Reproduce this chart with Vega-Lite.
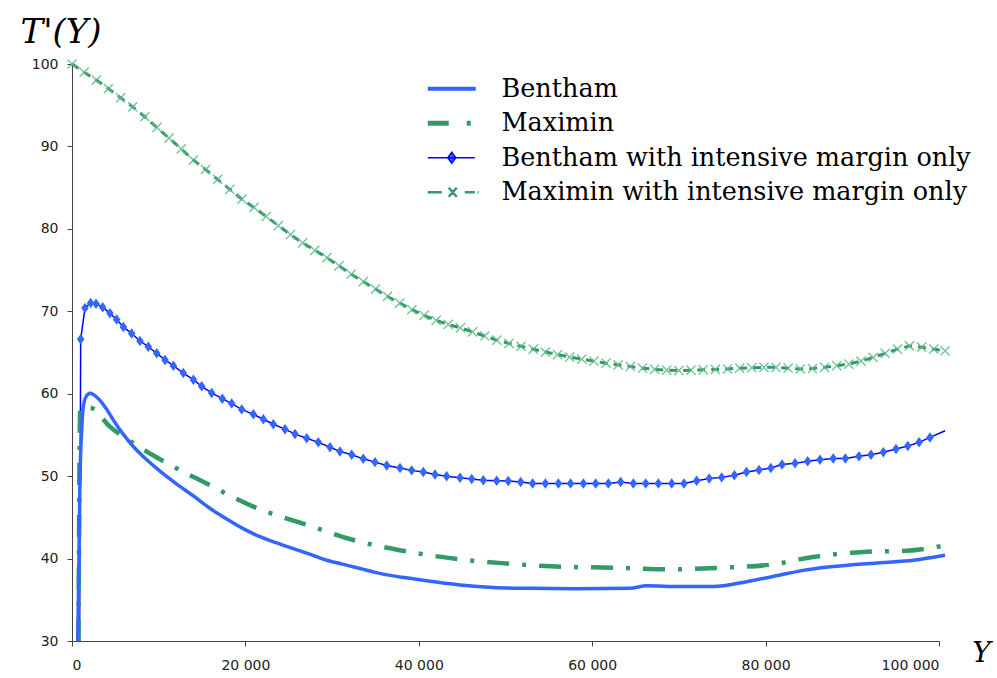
{
  "$schema": "https://vega.github.io/schema/vega-lite/v6.json",
  "width": 867,
  "height": 577,
  "autosize": {"type": "none"},
  "padding": {"left": 72, "top": 64, "right": 58, "bottom": 37},
  "background": "white",
  "config": {"view": {"stroke": null}},
  "datasets": {
    "bentham": [
      {"x":660,"y":30},{"x":750,"y":36},{"x":850,"y":44},{"x":920,"y":49.5},{"x":1120,"y":55.6},{"x":1300,"y":58.4},{"x":1600,"y":59.6},{"x":2080,"y":60.05},{"x":2600,"y":59.8},{"x":3230,"y":59.2},{"x":4000,"y":58.1},{"x":4770,"y":56.8},{"x":5900,"y":55.1},{"x":7070,"y":53.6},{"x":8500,"y":52.1},{"x":10150,"y":50.6},{"x":12000,"y":49.1},{"x":14000,"y":47.6},{"x":15900,"y":46.1},{"x":17840,"y":44.8},{"x":19800,"y":43.6},{"x":21680,"y":42.65},{"x":23600,"y":41.9},{"x":25530,"y":41.2},{"x":27500,"y":40.5},{"x":29380,"y":39.8},{"x":31300,"y":39.3},{"x":33220,"y":38.8},{"x":35100,"y":38.3},{"x":37060,"y":37.9},{"x":39000,"y":37.6},{"x":40910,"y":37.3},{"x":44750,"y":36.8},{"x":48590,"y":36.5},{"x":52830,"y":36.4},{"x":58000,"y":36.35},{"x":64360,"y":36.4},{"x":66280,"y":36.7},{"x":70130,"y":36.6},{"x":73970,"y":36.6},{"x":77820,"y":37.2},{"x":81660,"y":38.0},{"x":84500,"y":38.6},{"x":87430,"y":39.0},{"x":93200,"y":39.5},{"x":97040,"y":39.8},{"x":100700,"y":40.4}
    ],
    "maximin": [
      {"x":750,"y":30},{"x":800,"y":40},{"x":850,"y":50},{"x":950,"y":58.2},{"x":2080,"y":58.3},{"x":4380,"y":56.0},{"x":7070,"y":54.0},{"x":10920,"y":51.6},{"x":15530,"y":49.1},{"x":20910,"y":46.3},{"x":27070,"y":44.1},{"x":32440,"y":42.25},{"x":38990,"y":40.8},{"x":44750,"y":39.9},{"x":50130,"y":39.4},{"x":56670,"y":39.0},{"x":62440,"y":38.9},{"x":68970,"y":38.7},{"x":75120,"y":38.9},{"x":80890,"y":39.3},{"x":85500,"y":40.2},{"x":91270,"y":40.8},{"x":96270,"y":40.95},{"x":100700,"y":41.6}
    ],
    "benthamIM": [
      {"x":880,"y":30},{"x":1000,"y":66.6},{"x":1500,"y":70.4},{"x":2150,"y":71.0},{"x":2770,"y":70.9},{"x":3540,"y":70.5},{"x":4380,"y":69.75},{"x":5150,"y":69.0},{"x":5920,"y":68.1},{"x":6880,"y":67.3},{"x":7840,"y":66.4},{"x":8800,"y":65.7},{"x":9770,"y":64.9},{"x":10730,"y":64.1},{"x":11690,"y":63.4},{"x":12840,"y":62.5},{"x":14000,"y":61.7},{"x":14960,"y":60.9},{"x":16110,"y":60.1},{"x":17340,"y":59.4},{"x":18420,"y":58.8},{"x":19570,"y":58.1},{"x":20920,"y":57.5},{"x":22070,"y":56.9},{"x":23220,"y":56.3},{"x":24570,"y":55.7},{"x":25720,"y":55.1},{"x":27070,"y":54.6},{"x":28410,"y":54.1},{"x":29760,"y":53.5},{"x":30910,"y":53.0},{"x":32260,"y":52.6},{"x":33600,"y":52.1},{"x":34950,"y":51.7},{"x":36300,"y":51.3},{"x":37830,"y":51.0},{"x":39180,"y":50.7},{"x":40520,"y":50.5},{"x":41870,"y":50.2},{"x":43210,"y":50.0},{"x":44750,"y":49.8},{"x":46100,"y":49.65},{"x":47440,"y":49.5},{"x":48980,"y":49.45},{"x":50320,"y":49.4},{"x":51750,"y":49.3},{"x":53130,"y":49.1},{"x":54600,"y":49.1},{"x":56100,"y":49.1},{"x":57500,"y":49.1},{"x":58980,"y":49.1},{"x":60400,"y":49.1},{"x":61860,"y":49.1},{"x":63280,"y":49.3},{"x":64740,"y":49.1},{"x":66170,"y":49.1},{"x":67630,"y":49.1},{"x":69170,"y":49.1},{"x":70590,"y":49.1},{"x":72050,"y":49.45},{"x":73500,"y":49.7},{"x":74930,"y":49.85},{"x":76400,"y":50.1},{"x":77800,"y":50.5},{"x":79240,"y":50.75},{"x":80600,"y":51.0},{"x":81900,"y":51.4},{"x":83400,"y":51.55},{"x":84850,"y":51.8},{"x":86270,"y":52.0},{"x":87800,"y":52.15},{"x":89200,"y":52.15},{"x":90770,"y":52.4},{"x":92160,"y":52.6},{"x":93580,"y":52.9},{"x":95040,"y":53.3},{"x":96400,"y":53.65},{"x":97700,"y":54.1},{"x":98960,"y":54.7},{"x":100700,"y":55.5}
    ],
    "maximinIM": [
      {"x":0,"y":100},{"x":1400,"y":99.0},{"x":2800,"y":98.05},{"x":4200,"y":97.0},{"x":5600,"y":95.9},{"x":7000,"y":94.8},{"x":8400,"y":93.6},{"x":9800,"y":92.3},{"x":11200,"y":91.0},{"x":12600,"y":89.7},{"x":14000,"y":88.35},{"x":15400,"y":87.2},{"x":16800,"y":86.0},{"x":18200,"y":84.8},{"x":19600,"y":83.6},{"x":21000,"y":82.6},{"x":22400,"y":81.5},{"x":23800,"y":80.4},{"x":25200,"y":79.3},{"x":26600,"y":78.3},{"x":28000,"y":77.4},{"x":29400,"y":76.5},{"x":30800,"y":75.5},{"x":32200,"y":74.5},{"x":33600,"y":73.6},{"x":35000,"y":72.7},{"x":36400,"y":71.8},{"x":37800,"y":71.0},{"x":39200,"y":70.2},{"x":40600,"y":69.5},{"x":42000,"y":68.9},{"x":43400,"y":68.4},{"x":44800,"y":68.0},{"x":46200,"y":67.5},{"x":47600,"y":67.0},{"x":49000,"y":66.5},{"x":50400,"y":66.1},{"x":51800,"y":65.75},{"x":53200,"y":65.4},{"x":54600,"y":65.05},{"x":56000,"y":64.75},{"x":57400,"y":64.45},{"x":58800,"y":64.2},{"x":60200,"y":63.95},{"x":61600,"y":63.7},{"x":63000,"y":63.5},{"x":64400,"y":63.3},{"x":65800,"y":63.1},{"x":67200,"y":62.95},{"x":68600,"y":62.85},{"x":70000,"y":62.8},{"x":71400,"y":62.85},{"x":72800,"y":62.9},{"x":74200,"y":62.95},{"x":75600,"y":63.0},{"x":77000,"y":63.1},{"x":78400,"y":63.15},{"x":79800,"y":63.2},{"x":81200,"y":63.2},{"x":82600,"y":63.1},{"x":84000,"y":63.0},{"x":85400,"y":63.05},{"x":86800,"y":63.2},{"x":88200,"y":63.4},{"x":89600,"y":63.6},{"x":91000,"y":63.95},{"x":92400,"y":64.4},{"x":93800,"y":64.9},{"x":95200,"y":65.4},{"x":96600,"y":65.8},{"x":98000,"y":65.65},{"x":99400,"y":65.4},{"x":100700,"y":65.2}
    ]
  },
  "encoding": {
    "x": {
      "field": "x", "type": "quantitative",
      "scale": {"domain": [0, 100000], "nice": false, "zero": false},
      "axis": {
        "values": [0, 20000, 40000, 60000, 80000, 100000],
        "labelExpr": "replace(format(datum.value, ','), ',', ' ')",
        "grid": false, "domainColor": "#444", "tickColor": "#444", "tickSize": 5,
        "labelFont": "DejaVu Sans", "labelFontSize": 14, "labelColor": "#222", "labelPadding": 12,
        "title": "Y", "titleFont": "DejaVu Serif", "titleFontStyle": "italic", "titleFontWeight": "normal",
        "titleFontSize": 28, "titleColor": "black", "titleX": 909, "titleY": 20,
        "titleAlign": "center", "titleBaseline": "alphabetic"
      }
    },
    "y": {
      "field": "y", "type": "quantitative",
      "scale": {"domain": [30, 100], "nice": false, "zero": false},
      "axis": {
        "values": [30, 40, 50, 60, 70, 80, 90, 100],
        "grid": false, "domainColor": "#444", "tickColor": "#444", "tickSize": 5,
        "labelFont": "DejaVu Sans", "labelFontSize": 14, "labelColor": "#222", "labelPadding": 9,
        "title": "T'(Y)", "titleFont": "DejaVu Serif", "titleFontStyle": "italic", "titleFontWeight": "normal",
        "titleFontSize": 34, "titleColor": "black", "titleAngle": 0, "titleX": -52, "titleY": -22,
        "titleAlign": "left", "titleBaseline": "alphabetic"
      }
    }
  },
  "layer": [
    {
      "data": {"name": "maximinIM"},
      "mark": {"type": "line", "strokeWidth": 3, "strokeDash": [8, 6]},
      "encoding": {
        "color": {
          "datum": "Maximin with intensive margin only", "type": "nominal",
          "scale": {
            "domain": ["Bentham", "Maximin", "Bentham with intensive margin only", "Maximin with intensive margin only"],
            "range": ["#3366FF", "#339966", "#0000FF", "#339966"]
          },
          "legend": {
            "orient": "none", "legendX": 368, "legendY": 12, "title": null, "padding": 0,
            "labelFont": "DejaVu Serif", "labelFontSize": 25.5, "labelColor": "black", "labelOffset": 36, "labelLimit": 0,
            "symbolSize": 2500, "symbolType": "stroke", "rowPadding": 7.5,
            "encode": {
              "symbols": {
                "update": {
                  "shape": {"signal": "datum.value == 'Bentham' ? 'M-1,0L0.92,0' : datum.value == 'Maximin' ? 'M-1,0L-0.16,0M0.56,0L0.72,0' : datum.value == 'Bentham with intensive margin only' ? 'M-1,0L0.88,0M-0.04,-0.22L0.12,0L-0.04,0.22L-0.2,0Z' : 'M-1,0L-0.44,0M-0.16,-0.18L0.16,0.18M-0.16,0.18L0.16,-0.18M0.48,0L0.88,0M1,0L1.04,0'"},
                  "strokeWidth": {"signal": "datum.value == 'Bentham' ? 4 : datum.value == 'Maximin' ? 5 : datum.value == 'Bentham with intensive margin only' ? 1.5 : 2.5"},
                  "fill": {"signal": "datum.value == 'Bentham with intensive margin only' ? '#3366FF' : 'transparent'"},
                  "strokeDash": {"value": []}
                }
              }
            }
          }
        }
      }
    },
    {
      "data": {"name": "maximinIM"},
      "mark": {"type": "point", "shape": "M-1,-1L1,1M-1,1L1,-1", "filled": false, "size": 85, "color": "#5DBB8A", "strokeWidth": 1.4, "opacity": 0.85}
    },
    {
      "data": {"name": "benthamIM"},
      "mark": {"type": "line", "strokeWidth": 1.5},
      "encoding": {"color": {"datum": "Bentham with intensive margin only", "type": "nominal"}}
    },
    {
      "data": {"name": "benthamIM"},
      "transform": [{"filter": "datum.y > 30 && datum.x < 100500"}],
      "mark": {"type": "point", "shape": "M0,-1L0.72,0L0,1L-0.72,0Z", "filled": true, "size": 110, "color": "#3366FF", "opacity": 1}
    },
    {
      "data": {"name": "maximin"},
      "mark": {"type": "line", "strokeWidth": 4.5, "strokeDash": [22, 13, 4, 13], "interpolate": "monotone"},
      "encoding": {"color": {"datum": "Maximin", "type": "nominal"}}
    },
    {
      "data": {"name": "bentham"},
      "mark": {"type": "line", "strokeWidth": 3.5, "interpolate": "monotone"},
      "encoding": {"color": {"datum": "Bentham", "type": "nominal"}}
    }
  ]
}
